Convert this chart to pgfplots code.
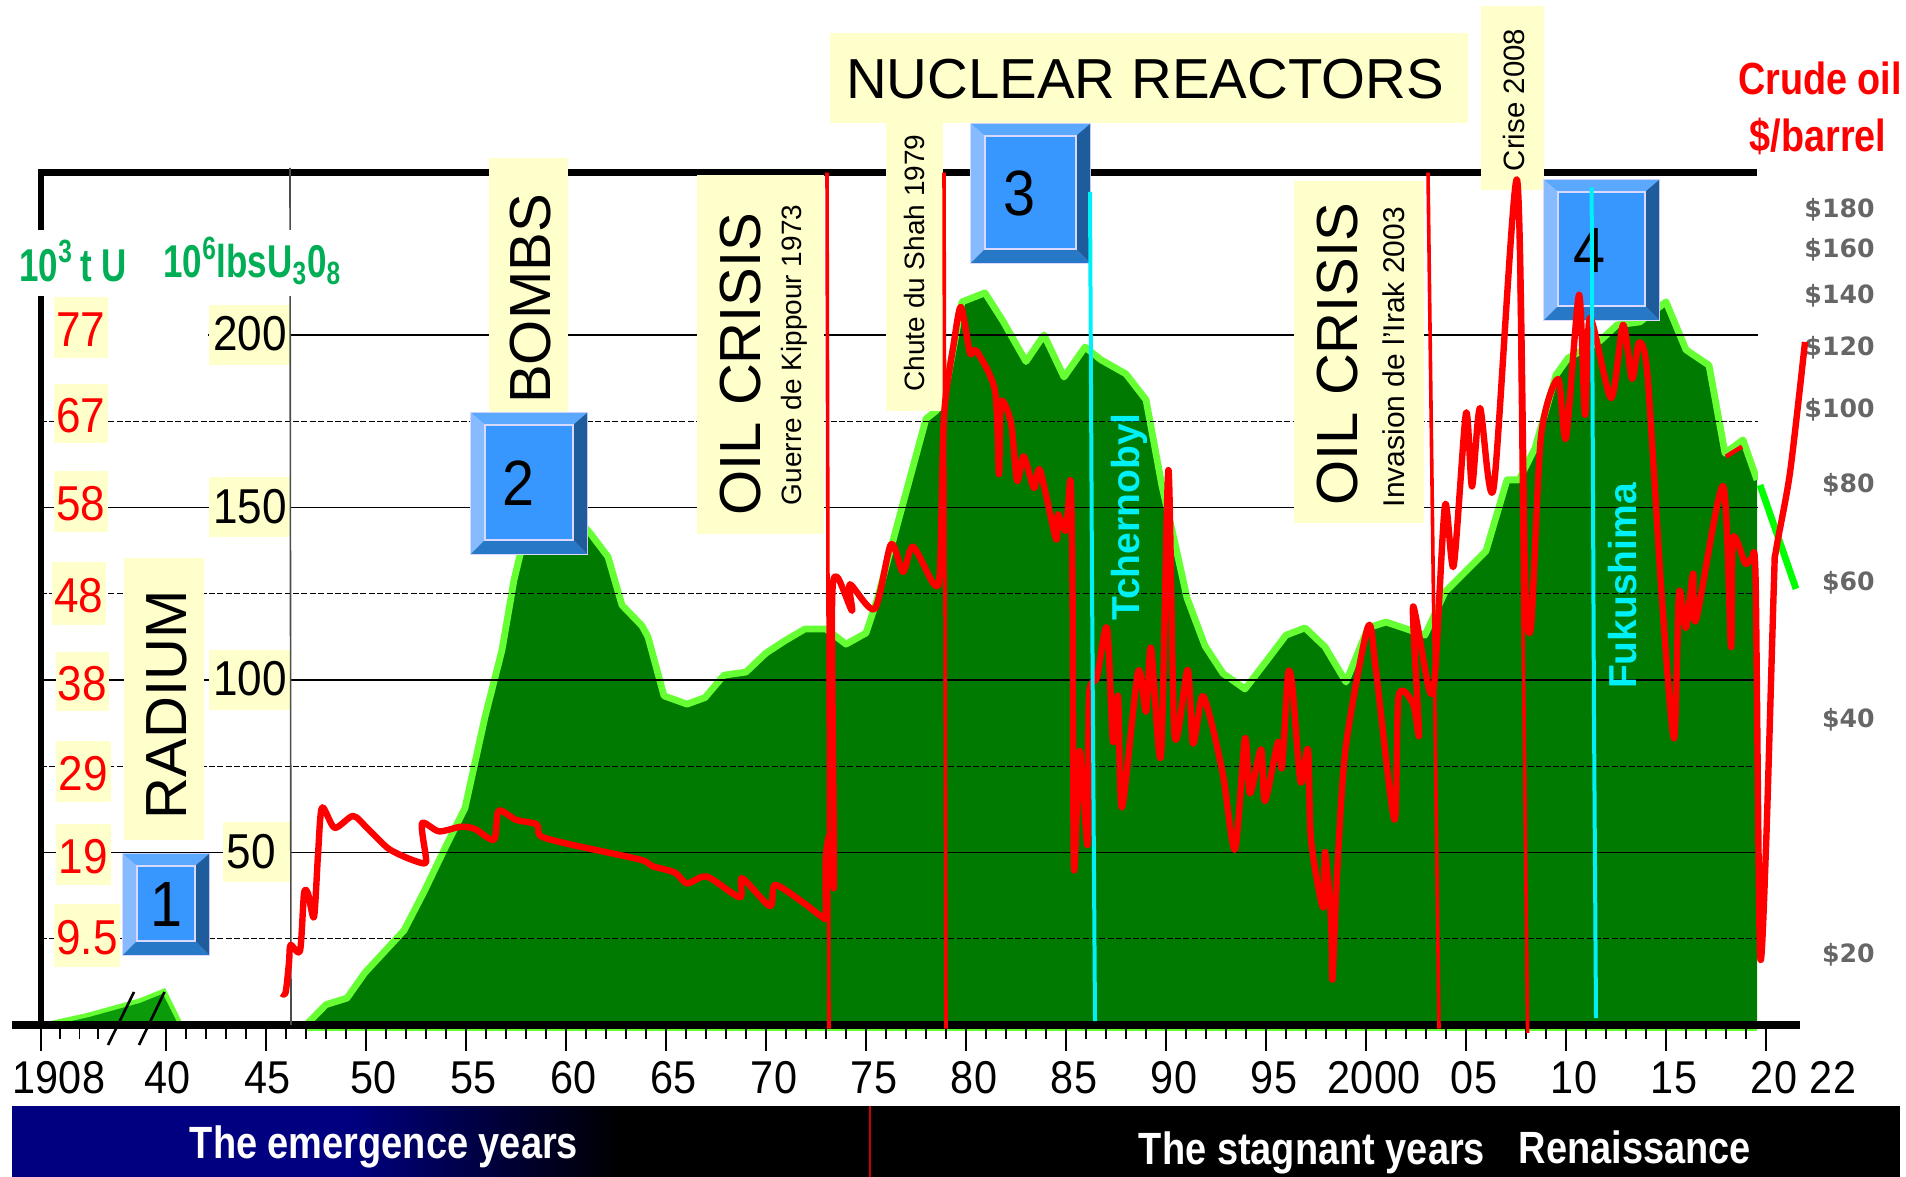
\documentclass[border=0pt]{standalone}
\usepackage{pgfplots}
\pgfplotsset{compat=1.18}
\usepackage{fontspec}
\setmainfont{Liberation Sans}
\newfontfamily\farc[FakeStretch=0.9]{Liberation Sans}
\newfontfamily\farb[FakeStretch=0.84]{Liberation Sans}
\newfontfamily\farh[FakeStretch=0.76]{Liberation Sans}
\newfontfamily\fdjv{DejaVu Sans}
\definecolor{cream}{HTML}{FFFFCC}
\definecolor{areagreen}{HTML}{007A00}
\definecolor{edgegreen}{HTML}{66FF33}
\definecolor{headgreen}{HTML}{00AE55}
\definecolor{navyband}{HTML}{000080}
\definecolor{earlygreen}{HTML}{0A9A0A}
\definecolor{eventcyan}{HTML}{00F0F8}
\definecolor{HTML5BA8FF}{HTML}{5BA8FF}
\definecolor{HTML86BCFF}{HTML}{86BCFF}
\definecolor{HTML2878C8}{HTML}{2878C8}
\definecolor{HTML1F5C9C}{HTML}{1F5C9C}
\definecolor{HTML3797FF}{HTML}{3797FF}
\newcommand{\fs}[1]{\fontsize{#1pt}{#1pt}\selectfont}
% picture-pixel helpers (used inside the px scope)
\newcommand{\ybox}[4]{\fill[cream] (#1,#2) rectangle (#3,#4);}
\newcommand{\bluebtn}[6]{%
  \fill[white!85!blue] (#1,#2) rectangle (#3,#4);
  \fill[HTML5BA8FF] ({#1+1},{#2+1}) -- ({#3-1},{#2+1}) -- ({#3-15},{#2+13}) -- ({#1+15},{#2+13}) -- cycle;
  \fill[HTML86BCFF] ({#1+1},{#2+1}) -- ({#1+15},{#2+13}) -- ({#1+15},{#4-15}) -- ({#1+1},{#4-1}) -- cycle;
  \fill[HTML2878C8] ({#1+1},{#4-1}) -- ({#1+15},{#4-15}) -- ({#3-15},{#4-15}) -- ({#3-1},{#4-1}) -- cycle;
  \fill[HTML1F5C9C] ({#3-1},{#2+1}) -- ({#3-15},{#2+13}) -- ({#3-15},{#4-15}) -- ({#3-1},{#4-1}) -- cycle;
  \fill[HTML3797FF,draw=white!85!blue,line width=0.6pt] ({#1+15},{#2+13}) rectangle ({#3-15},{#4-15});
  \node[inner sep=0pt,font=\farc\fs{32}] at ({#6},{(#2+#4)/2}) {#5};}
\begin{document}
\begin{tikzpicture}
\useasboundingbox (0,0) rectangle (953pt,588.5pt);
% ---------- bottom band and frame under the main axis
\begin{scope}[x=0.5pt,y=-0.5pt,shift={(0pt,588.5pt)}]
  \fill[navyband] (12,1106) rectangle (350,1177);
  \shade[left color=navyband,right color=black] (350,1106) rectangle (620,1177);
  \fill[black] (620,1106) rectangle (1900,1177);
  \fill[white] (0,1090) rectangle (1906,1106);
  \fill[red!80!black] (869,1106) rectangle (871,1177);
  \node[text=white,font=\farb\bfseries\fs{22.6}] at (384,1147) {The emergence years};
  \node[text=white,font=\farb\bfseries\fs{22.6}] at (1312,1153) {The stagnant years};
  \node[text=white,font=\farb\bfseries\fs{22.6}] at (1635,1147) {Renaissance};
  \node[font=\farc\fs{23}] at (1833,1077) {22};
\end{scope}
% ---------- uranium production (10^6 lbs U3O8)
\begin{axis}[
  at={(20.5pt,76pt)}, anchor=south west,
  scale only axis, width=862.5pt, height=426.2pt,
  xmin=1933.75, xmax=2020, ymin=0, ymax=247.07,
  clip=false, axis on top,
  axis x line*=bottom, axis y line*=left,
  axis line style={line width=3pt,black},
  /pgf/number format/assume math mode=true,
  xtick={1933.75,1940,1945,1950,1955,1960,1965,1970,1975,1980,1985,1990,1995,2000,2005,2010,2015,2020},
  xticklabels={{\hspace*{10pt}1908},{40\hspace*{6pt}},{45\hspace*{6pt}},50,55,60,65,70,75,80,85,90,95,2000,05,10,15,20},
  minor xtick={1934.7,1935.67,1936.6,1941,1942,1943,1944,1946,1947,1948,1949,1951,1952,1953,1954,1956,1957,1958,1959,1961,1962,1963,1964,1966,1967,1968,1969,1971,1972,1973,1974,1976,1977,1978,1979,1981,1982,1983,1984,1986,1987,1988,1989,1991,1992,1993,1994,1996,1997,1998,1999,2001,2002,2003,2004,2006,2007,2008,2009,2011,2012,2013,2014,2016,2017,2018,2019},
  tick align=outside,
  major tick length=13pt, minor tick length=7pt,
  xtick style={black,line width=0.6pt},
  minor x tick style={black,line width=0.6pt},
  xticklabel style={font=\farc\fs{23},xshift=4pt,yshift=-5pt,inner sep=0pt},
  ytick={50,100,150,200},
  yticklabels={{50\hspace*{5.5pt}},100,150,200},
  minor ytick={25,75,125,175},
  ymajorgrids, yminorgrids,
  major grid style={black,line width=0.75pt},
  minor grid style={black,line width=0.7pt,dash pattern=on 3pt off 1.2pt},
  ytick style={draw=none}, minor y tick style={draw=none},
  yticklabel style={font=\farc\fs{24.5},anchor=east,xshift=138pt,fill=cream,inner xsep=2pt,minimum height=30pt,text depth=0pt,text height=16pt},
]
\addplot[draw=none,fill=earlygreen] coordinates {(1933.85,0)(1936.1,2.9)(1938.65,7)(1939.9,9.9)(1940.75,0)} \closedcycle;
\addplot[edgegreen,line width=2.2pt] coordinates {(1933.85,0)(1936.1,2.9)(1938.65,7)(1939.9,9.9)(1940.75,0)};
\addplot[draw=none,fill=areagreen] coordinates {
(1947.0,0)(1948.0,5.9)(1949.05,7.8)(1949.95,15.2)(1951.9,27.4)(1952.9,38.6)(1953.95,51.3)(1954.95,62.9)(1955.95,89.3)(1956.8,108.7)(1957.4,129)(1957.7,136.2)(1958.45,149.3)(1959.7,152.2)(1961.2,142.6)(1962.1,135.7)(1962.8,121.7)(1963.8,115.7)(1964.1,112.5)(1964.9,95.4)(1966.05,93)(1966.95,94.9)(1967.9,101.4)(1969,102.3)(1970,107.8)(1970.95,111.4)(1971.95,114.8)(1973,114.8)(1974,110.4)(1975,113.6)(1975.55,123.2)(1976.75,149)(1978,175.7)(1978.5,178)(1978.9,181.7)(1979.8,209.6)(1980.95,212.2)(1981.85,204)(1983,192.3)(1983.9,200)(1984.9,187.8)(1985.95,196.5)(1986.75,192.8)(1988,188.7)(1989,181.2)(1989.8,156.2)(1990.4,140.9)(1991.05,123.8)(1991.95,109.9)(1992.85,101.9)(1993.95,97.4)(1995.1,106.1)(1996,113)(1996.95,115.1)(1997.95,109.6)(1999,99.4)(2000.1,115.1)(2001,116.8)(2002.95,113)(2003.95,125.5)(2006,137.4)(2007.05,158)(2007.65,158)(2008.45,167.2)(2009.5,188.4)(2010.1,193.3)(2011.7,198.3)(2012.55,202.9)(2013.7,203.8)(2015,209.6)(2016,195.7)(2017.15,191.2)(2017.95,165.7)(2018.85,169.6)(2019.55,158)(2019.55,0)} \closedcycle;
\addplot[edgegreen,line width=3.4pt,line join=round] coordinates {
(1947.0,0)(1948.0,5.9)(1949.05,7.8)(1949.95,15.2)(1951.9,27.4)(1952.9,38.6)(1953.95,51.3)(1954.95,62.9)(1955.95,89.3)(1956.8,108.7)(1957.4,129)(1957.7,136.2)(1958.45,149.3)(1959.7,152.2)(1961.2,142.6)(1962.1,135.7)(1962.8,121.7)(1963.8,115.7)(1964.1,112.5)(1964.9,95.4)(1966.05,93)(1966.95,94.9)(1967.9,101.4)(1969,102.3)(1970,107.8)(1970.95,111.4)(1971.95,114.8)(1973,114.8)(1974,110.4)(1975,113.6)(1975.55,123.2)(1976.75,149)(1978,175.7)(1978.5,178)(1978.9,181.7)(1979.8,209.6)(1980.95,212.2)(1981.85,204)(1983,192.3)(1983.9,200)(1984.9,187.8)(1985.95,196.5)(1986.75,192.8)(1988,188.7)(1989,181.2)(1989.8,156.2)(1990.4,140.9)(1991.05,123.8)(1991.95,109.9)(1992.85,101.9)(1993.95,97.4)(1995.1,106.1)(1996,113)(1996.95,115.1)(1997.95,109.6)(1999,99.4)(2000.1,115.1)(2001,116.8)(2002.95,113)(2003.95,125.5)(2006,137.4)(2007.05,158)(2007.65,158)(2008.45,167.2)(2009.5,188.4)(2010.1,193.3)(2011.7,198.3)(2012.55,202.9)(2013.7,203.8)(2015,209.6)(2016,195.7)(2017.15,191.2)(2017.95,165.7)(2018.85,169.6)(2019.55,158)};
\addplot[edgegreen,line width=1.5pt] coordinates {(1947,-1.2)(2019.55,-1.2)};
\end{axis}
% ---------- frame pieces, boxes, labels
\begin{scope}[x=0.5pt,y=-0.5pt,shift={(0pt,588.5pt)}]
  \fill[white] (1758,177) rectangle (1790,1019);
  \fill[white] (44,332) rectangle (208,339);
  \fill[black] (12,1021) rectangle (1800,1029.5);
  \fill[black] (38,169) rectangle (1757,176);
  \draw[black!70,line width=0.8pt] (290,168) -- (291,1025);
  % broken axis
  \draw[black,line width=1.3pt] (134,992) -- (108,1045);
  \draw[black,line width=1.3pt] (164.5,992) -- (139,1045);
  % unit headers
  \fill[white] (15,230) rectangle (340,296);
  \node[text=headgreen,font=\farh\bfseries\fs{23},anchor=west,inner sep=0pt] at (19,261) {10\textsuperscript{3}\,t U};
  \node[text=headgreen,font=\farh\bfseries\fs{23},anchor=west,inner sep=0pt] at (163,261) {10\textsuperscript{6}lbsU\textsubscript{3}0\textsubscript{8}};
  % left red scale (10^3 t U)
  \foreach \xa/\xb/\ya/\yb/\t in {54/108/297/358/77,54/108/384/443/67,54/108/471/532/58,52/106/562/625/48,56/109/652/711/38,56/111/741/802/29,56/111/824/885/19,54/120/904/967/9.5}{
    \fill[cream] (\xa,\ya) rectangle (\xb,\yb);
    \node[text=red,font=\farc\fs{24.5},inner sep=0pt] at ({(\xa+\xb)/2},{(\ya+\yb)/2+2}) {\t};
  }
  % yellow boxes
  \ybox{124}{558}{204}{840}
  \ybox{489}{158}{568}{413}
  \ybox{697}{175}{824}{534}
  \ybox{886}{123}{943}{411}
  \ybox{830}{33}{1468}{123}
  \ybox{1294}{181}{1424}{523}
  \ybox{1481}{6}{1544}{190}
  \node[rotate=90,font=\fs{29},inner sep=0pt] at (167,705) {RADIUM};
  \node[rotate=90,font=\fs{29},inner sep=0pt] at (531,299) {BOMBS};
  \node[rotate=90,font=\fs{29},inner sep=0pt] at (741,364) {OIL CRISIS};
  \node[rotate=90,font=\fs{14},inner sep=0pt] at (794,355) {Guerre de Kippour 1973};
  \node[rotate=90,font=\fs{14},inner sep=0pt] at (914,263) {Chute du Shah 1979};
  \node[font=\fs{28.2},inner sep=0pt] at (1145,79) {NUCLEAR REACTORS};
  \node[rotate=90,font=\fs{29},inner sep=0pt] at (1338,354) {OIL CRISIS};
  \node[rotate=90,font=\fs{15},inner sep=0pt] at (1394,357) {Invasion de l'Irak 2003};
  \node[rotate=90,font=\fs{14.7},inner sep=0pt] at (1514,100) {Crise 2008};
  % buttons
  \bluebtn{122}{853}{210}{956}{1}{166.5}
  \bluebtn{470}{412}{588}{555}{2}{519}
  \bluebtn{970}{123}{1091}{264}{3}{1020}
  \bluebtn{1543}{179}{1660}{321}{4}{1589}
  % oil title
  \node[text=red,font=\farb\bfseries\fs{22.5},inner sep=0pt] at (1820,78) {Crude oil};
  \node[text=red,font=\farb\bfseries\fs{22.5},inner sep=0pt] at (1818,136) {\$/barrel};
\end{scope}
% ---------- crude oil price, log scale on the right
\begin{axis}[
  at={(20.5pt,76pt)}, anchor=south west,
  scale only axis, width=862.5pt, height=426.2pt,
  xmin=1933.75, xmax=2020,
  ymode=log, ymin=16.27, ymax=201.08,
  clip=false,
  axis x line=none, axis y line*=right,
  y axis line style={draw=none},
  ytick={20,40,60,80,100,120,140,160,180},
  yticklabels={\$20,\$40,\$60,\$80,\$100,\$120,\$140,\$160,\$180},
  ytick style={draw=none}, minor ytick={},
  yticklabel style={font=\fdjv\bfseries\fs{12.6},text=black!60,anchor=east,xshift=54.5pt,inner sep=0pt},
]
\addplot[green,line width=3.4pt] coordinates {(2019.7,80)(2021.5,58.9)};
\addplot[red,line width=1.8pt] coordinates {(1973.05,201.08)(1973.15,16.1)};
\addplot[red,line width=1.8pt] coordinates {(1978.9,201.08)(1979.0,16.1)};
\addplot[red,line width=1.8pt] coordinates {(2003.1,201.08)(2003.65,16.1)};
\addplot[red,line width=1.8pt] coordinates {(2007.6,197)(2008.08,15.9)};
\addplot[red,line width=3.2pt,line join=round,smooth,tension=0.45] coordinates {
(1945.78,17.86)(1945.98,17.9)(1946.15,19.56)(1946.23,20.6)(1946.7,20.25)(1946.9,23.97)(1947.1,23.97)(1947.4,22.37)(1947.6,26.87)(1947.8,30.9)(1948.43,29.1)(1949.35,30.14)(1950.05,29.1)(1951.1,27.4)(1952.1,26.6)(1952.9,26.2)(1953,26.6)(1952.8,29.5)(1953.65,28.8)(1954.75,29.2)(1955.45,29.0)(1956.4,28.1)(1956.63,30.6)(1957.5,29.8)(1958.53,29.4)(1958.73,28.4)(1960.25,27.7)(1963.7,26.5)(1964.3,26.0)(1965.45,25.5)(1966.05,24.7)(1967.05,25.2)(1968.7,23.7)(1968.8,25.1)(1970.2,23.1)(1970.45,24.6)(1971.85,23.35)(1972.78,22.4)(1972.98,22.5)(1972.98,26.5)(1973.2,28.5)(1973.4,24.8)(1973.3,55.5)(1973.55,61)(1974.3,55.2)(1974.2,59.7)(1975.43,55.5)(1976.25,67.2)(1976.85,61.9)(1977.35,66.7)(1978.4,59.7)(1978.7,62.3)(1978.9,98.1)(1979.4,122)(1979.75,135.3)(1980.2,118.1)(1980.53,118.8)(1981.45,105.6)(1981.65,82.6)(1981.75,102.2)(1982.25,96.1)(1982.55,81)(1982.88,87.1)(1983.4,79.3)(1983.7,83.6)(1984.5,68.2)(1984.6,73.4)(1985,70)(1985.23,81)(1985.33,57)(1985.4,25.8)(1985.68,36.5)(1986.08,27.67)(1986.15,42.9)(1986.55,45.4)(1987.05,52.5)(1987.35,37.5)(1987.6,42.9)(1987.8,30.9)(1988.6,46.1)(1989,41)(1989.25,49.5)(1989.75,36)(1990.12,83.6)(1990.43,38.2)(1991.08,46.4)(1991.35,37.3)(1991.8,42.9)(1992.25,39.9)(1992.87,33.8)(1993.45,27.3)(1993.95,37.9)(1994.2,32.2)(1994.75,36.7)(1994.95,31.5)(1995.6,37.5)(1995.8,34.8)(1996.1,45.7)(1996.32,44.1)(1996.73,33.3)(1997.1,36.7)(1997.25,28.1)(1997.85,23)(1997.95,27.1)(1998.25,22.2)(1998.32,18.6)(1998.55,25.3)(1998.98,36.8)(2000.1,52.7)(2000.5,46.2)(2001.42,29.8)(2001.63,42.9)(2002.35,42)(2002.65,38.4)(2002.35,55.9)(2003.15,43.8)(2003.45,45.7)(2003.95,75.4)(2004.38,63)(2005,98.9)(2005.3,79.7)(2005.7,100.4)(2006.38,79.3)(2007.55,197)(2007.95,61.6)(2008.25,52.7)(2008.75,92.4)(2009.6,109.4)(2010,91.9)(2010.65,140.2)(2010.95,98.4)(2011.2,131)(2012.25,103.4)(2012.85,128.3)(2013.3,109.4)(2013.65,121.8)(2014.07,110.8)(2014.8,57)(2015.4,37.9)(2015.65,58.2)(2016,52.5)(2016.35,61.6)(2016.5,53.7)(2017.85,79.8)(2018.25,49.6)(2018.35,68.4)(2018.97,63.4)(2019.28,64.3)(2019.48,60.4)(2019.7,20.1)(2020,27.5)(2020.4,60.4)(2020.5,66)(2021.2,83)(2021.95,122)};
\addplot[red,line width=2.2pt] coordinates {(2018,87)(2018.8,89.6)};
\addplot[eventcyan,line width=2pt] coordinates {(1986.2,190)(1986.3,60)(1986.45,16.46)};
\addplot[eventcyan,line width=2pt] coordinates {(2011.28,192.5)(2011.4,40)(2011.5,16.6)};
\end{axis}
\begin{scope}[x=0.5pt,y=-0.5pt,shift={(0pt,588.5pt)}]
  \node[rotate=90,text=eventcyan,font=\bfseries\fs{19.5},inner sep=0pt] at (1129,517) {Tchernobyl};
  \node[rotate=90,text=eventcyan,font=\bfseries\fs{19.5},inner sep=0pt] at (1623,586) {Fukushima};
\end{scope}
\end{tikzpicture}
\end{document}
